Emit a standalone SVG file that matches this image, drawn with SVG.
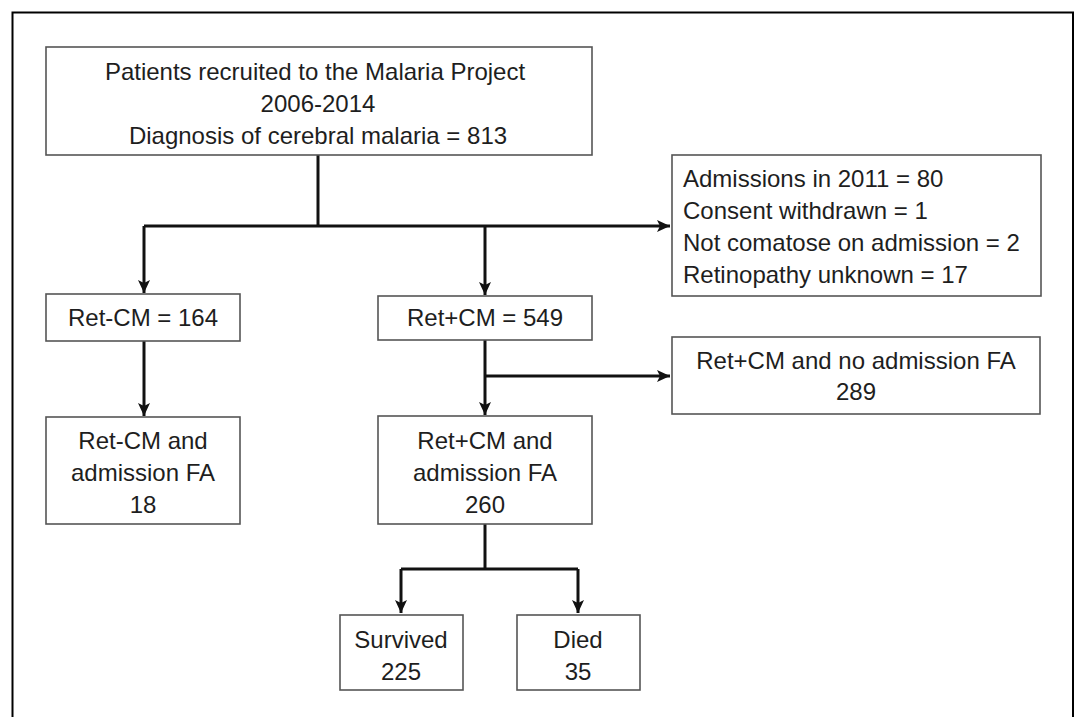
<svg xmlns="http://www.w3.org/2000/svg" width="1079" height="717" viewBox="0 0 1079 717">
<defs>
<style>
.box{fill:#fff;stroke:#555;stroke-width:1.6}
.t{font-family:"Liberation Sans",Arial,sans-serif;font-size:24px;fill:#1e1e1e}
.c{text-anchor:middle}
.ln{fill:none;stroke:#111;stroke-width:3}
</style>
<marker id="ah" markerUnits="userSpaceOnUse" markerWidth="16" markerHeight="14" refX="13" refY="7" orient="auto">
<path d="M0,1 L13,7 L0,13 L3,7 z" fill="#111"/>
</marker>
</defs>
<rect width="1079" height="717" fill="#fff"/>
<path d="M12.5,717 V12.5 H1073 V717" fill="none" stroke="#000" stroke-width="2"/>
<g id="connectors">
<path class="ln" d="M318,155 V226"/>
<path class="ln" d="M144,226 H484" />
<path class="ln" d="M484,226 H670" marker-end="url(#ah)"/>
<path class="ln" d="M144,226 V293" marker-end="url(#ah)"/>
<path class="ln" d="M485,226 V295" marker-end="url(#ah)"/>
<path class="ln" d="M144,341 V416" marker-end="url(#ah)"/>
<path class="ln" d="M485,340 V415" marker-end="url(#ah)"/>
<path class="ln" d="M485,376 H670" marker-end="url(#ah)"/>
<path class="ln" d="M485,524 V569"/>
<path class="ln" d="M401,569 H578"/>
<path class="ln" d="M401,569 V613" marker-end="url(#ah)"/>
<path class="ln" d="M578,569 V613" marker-end="url(#ah)"/>
</g>
<g id="n-top">
<rect class="box" x="46" y="47" width="546" height="108"/>
<text class="t c" x="315" y="80">Patients recruited to the Malaria Project</text>
<text class="t c" x="318" y="112">2006-2014</text>
<text class="t c" x="318" y="144">Diagnosis of cerebral malaria = 813</text>
</g>
<g id="n-excl">
<rect class="box" x="672" y="155" width="369" height="141"/>
<text class="t" x="683" y="187">Admissions in 2011 = 80</text>
<text class="t" x="683" y="219">Consent withdrawn = 1</text>
<text class="t" x="683" y="251">Not comatose on admission = 2</text>
<text class="t" x="683" y="283">Retinopathy unknown = 17</text>
</g>
<g id="n-retneg">
<rect class="box" x="46" y="294" width="194" height="47"/>
<text class="t c" x="143" y="326">Ret-CM = 164</text>
</g>
<g id="n-retpos">
<rect class="box" x="378" y="296" width="214" height="44"/>
<text class="t c" x="485" y="326">Ret+CM = 549</text>
</g>
<g id="n-retpos-nofa">
<rect class="box" x="672" y="337" width="368" height="77"/>
<text class="t c" x="856" y="369">Ret+CM and no admission FA</text>
<text class="t c" x="856" y="400">289</text>
</g>
<g id="n-retneg-fa">
<rect class="box" x="46" y="417" width="194" height="107"/>
<text class="t c" x="143" y="449">Ret-CM and</text>
<text class="t c" x="143" y="481">admission FA</text>
<text class="t c" x="143" y="513">18</text>
</g>
<g id="n-retpos-fa">
<rect class="box" x="378" y="416" width="214" height="108"/>
<text class="t c" x="485" y="449">Ret+CM and</text>
<text class="t c" x="485" y="481">admission FA</text>
<text class="t c" x="485" y="513">260</text>
</g>
<g id="n-survived">
<rect class="box" x="340" y="615" width="123" height="75"/>
<text class="t c" x="401" y="648">Survived</text>
<text class="t c" x="401" y="680">225</text>
</g>
<g id="n-died">
<rect class="box" x="517" y="615" width="123" height="75"/>
<text class="t c" x="578" y="648">Died</text>
<text class="t c" x="578" y="680">35</text>
</g>
</svg>
